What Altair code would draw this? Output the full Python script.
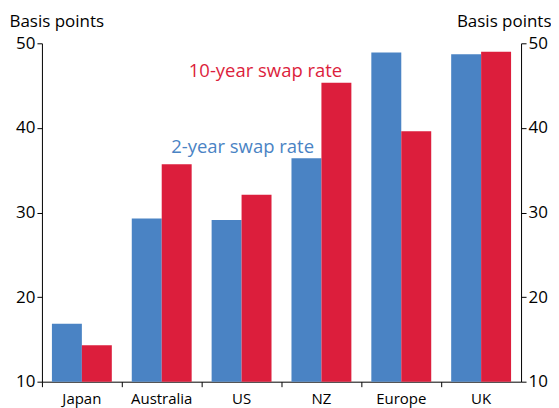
import altair as alt
import pandas as pd

categories = ["Japan", "Australia", "US", "NZ", "Europe", "UK"]
two_year = [16.85, 29.3, 29.1, 36.4, 48.9, 48.7]
ten_year = [14.3, 35.7, 32.1, 45.35, 39.6, 49.0]
series = ["2-year swap rate", "10-year swap rate"]
colors = ["#4A83C4", "#DC1E3C"]

rows = []
for c, a, b in zip(categories, two_year, ten_year):
    rows.append({"cat": c, "series": series[0], "value": a})
    rows.append({"cat": c, "series": series[1], "value": b})
df = pd.DataFrame(rows)

ann = pd.DataFrame({
    "cat": ["US", "US"],
    "value": [46.7, 37.8],
    "label": ["10-year swap rate", "2-year swap rate"],
    "series": ["10-year swap rate", "2-year swap rate"],
    "dx": [24, 0],
})

FONT = "Open Sans"

x = alt.X("cat:N", sort=categories, title=None,
          scale=alt.Scale(paddingInner=0, paddingOuter=0),
          axis=alt.Axis(bandPosition=0, labelAngle=0,
                        labelFontSize=15, labelColor="#000", labelFont=FONT,
                        tickSize=5, tickColor="#000", domainColor="#000",
                        labelPadding=5))
yscale = alt.Scale(domain=[10, 50], nice=False, zero=False)
color = alt.Color("series:N", scale=alt.Scale(domain=series, range=colors), legend=None)

def yaxis(orient, tx, align):
    return alt.Axis(orient=orient, values=[10, 20, 30, 40, 50], title="Basis points",
                    titleAngle=0, titleX=tx, titleY=-17, titleAlign=align,
                    titleBaseline="alphabetic", titleFontSize=17,
                    titleFontWeight="normal", titleFont=FONT, titleColor="#000",
                    labelFontSize=17, labelFont=FONT, labelColor="#000",
                    tickSize=5, tickColor="#000", domainColor="#000",
                    labelPadding=2, grid=False)

bars = alt.Chart(df).mark_bar(opacity=1, clip=True).encode(
    x=x,
    xOffset=alt.XOffset("series:N", sort=series,
                        scale=alt.Scale(paddingInner=0, paddingOuter=0.3333)),
    y=alt.Y("value:Q", scale=yscale, axis=yaxis("left", -33, "left")),
    color=color,
)

right = alt.Chart(df).mark_point(opacity=0).encode(
    x=x,
    y=alt.Y("value:Q", scale=yscale, axis=yaxis("right", 30, "right")),
)

def text_layer(cond, dx):
    return alt.Chart(ann).transform_filter(cond).mark_text(
        fontSize=18.5, font=FONT, baseline="middle", align="center", dx=dx
    ).encode(
        x=x,
        y=alt.Y("value:Q", scale=yscale, axis=None),
        text="label:N",
        color=color,
    )

t10 = text_layer(alt.datum.dx > 0, 24)
t2 = text_layer(alt.datum.dx == 0, 1)

chart = alt.layer(bars, right, t10, t2).resolve_axis(y="independent").properties(
    width=480, height=339,
    autosize=alt.AutoSizeParams(type="none"),
    padding={"left": 34, "top": 35, "right": 30, "bottom": 30},
).configure_view(stroke=None).configure_axis(domainWidth=1, tickWidth=1)

chart.save("out.html", embed_options={"renderer": "svg", "actions": False})
